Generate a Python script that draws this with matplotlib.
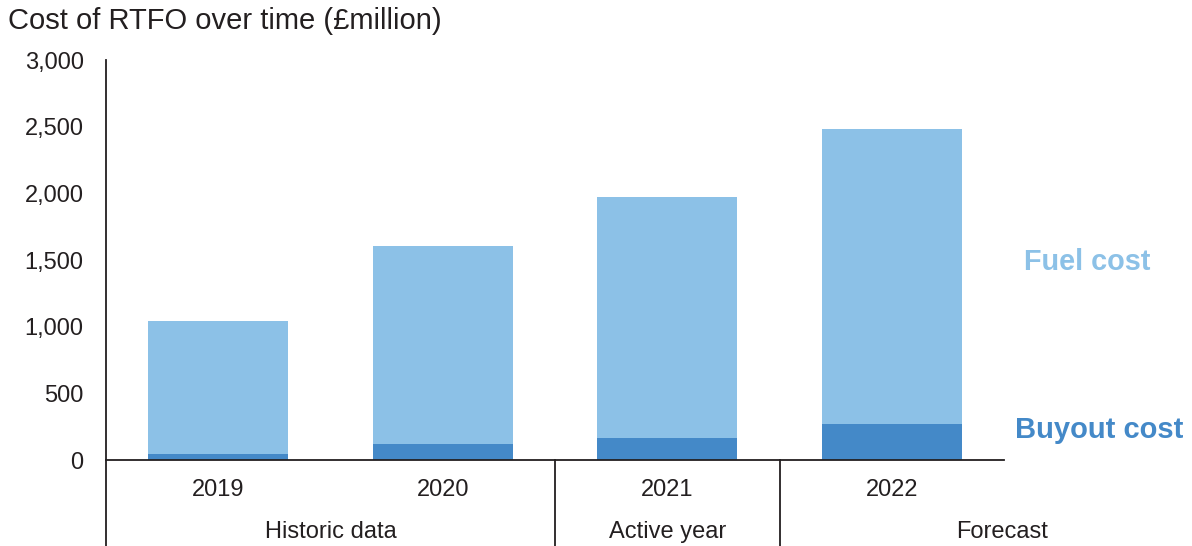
import matplotlib
matplotlib.use('Agg')
import matplotlib.pyplot as plt
from matplotlib.ticker import FuncFormatter

plt.rcParams['font.family'] = ['Liberation Sans', 'DejaVu Sans']

years = ['2019', '2020', '2021', '2022']
buyout = [42, 120, 165, 270]
fuel = [1000, 1485, 1810, 2210]
groups = ['Historic data', 'Active year', 'Forecast']
group_pos = [0.5, 2.0, 3.49]
group_seps = [1.5, 2.5]

C_FUEL = '#8cc1e7'
C_BUY = '#4489c8'
C_TXT = '#231f20'

fig = plt.figure(figsize=(11.92, 5.46), dpi=100)
ax = fig.add_axes([0.0889, 0.1575, 0.7534, 0.7325])

x = range(len(years))
ax.bar(x, buyout, width=0.625, color=C_BUY, linewidth=0)
ax.bar(x, fuel, width=0.625, bottom=buyout, color=C_FUEL, linewidth=0)

ax.set_xlim(-0.5, 3.5)
ax.set_ylim(0, 3000)
ax.set_yticks(range(0, 3001, 500))
ax.yaxis.set_major_formatter(FuncFormatter(lambda v, p: f'{int(v):,}'))
ax.tick_params(axis='y', length=0, pad=16, labelsize=17, labelcolor=C_TXT)
ax.set_xticks([])

for s in ['top', 'right', 'left']:
    ax.spines[s].set_visible(False)
ax.spines['bottom'].set_color(C_TXT)
ax.spines['bottom'].set_linewidth(1.3)

trans = ax.get_xaxis_transform()
# y axis line running down past zero to the bottom of the figure
ax.plot([-0.5, -0.5], [1.0, -0.22], transform=trans, color=C_TXT, lw=1.3, clip_on=False)
for sx in group_seps:
    ax.plot([sx, sx], [0, -0.22], transform=trans, color=C_TXT, lw=1.3, clip_on=False)

for i, y in enumerate(years):
    ax.text(i, -0.075, y, transform=trans, ha='center', va='center', fontsize=17, color=C_TXT)
for g, gp in zip(groups, group_pos):
    ax.text(gp, -0.18, g, transform=trans, ha='center', va='center', fontsize=17, color=C_TXT)

fig.text(0.007, 0.962, 'Cost of RTFO over time (£million)', fontsize=21, color=C_TXT,
         ha='left', va='center')

fig.text(0.912, 0.52, 'Fuel cost', fontsize=20.8, fontweight='bold', color=C_FUEL, ha='center', va='center')
fig.text(0.922, 0.212, 'Buyout cost', fontsize=21, fontweight='bold', color=C_BUY, ha='center', va='center')

fig.savefig('out.png', dpi=100, facecolor='white')
